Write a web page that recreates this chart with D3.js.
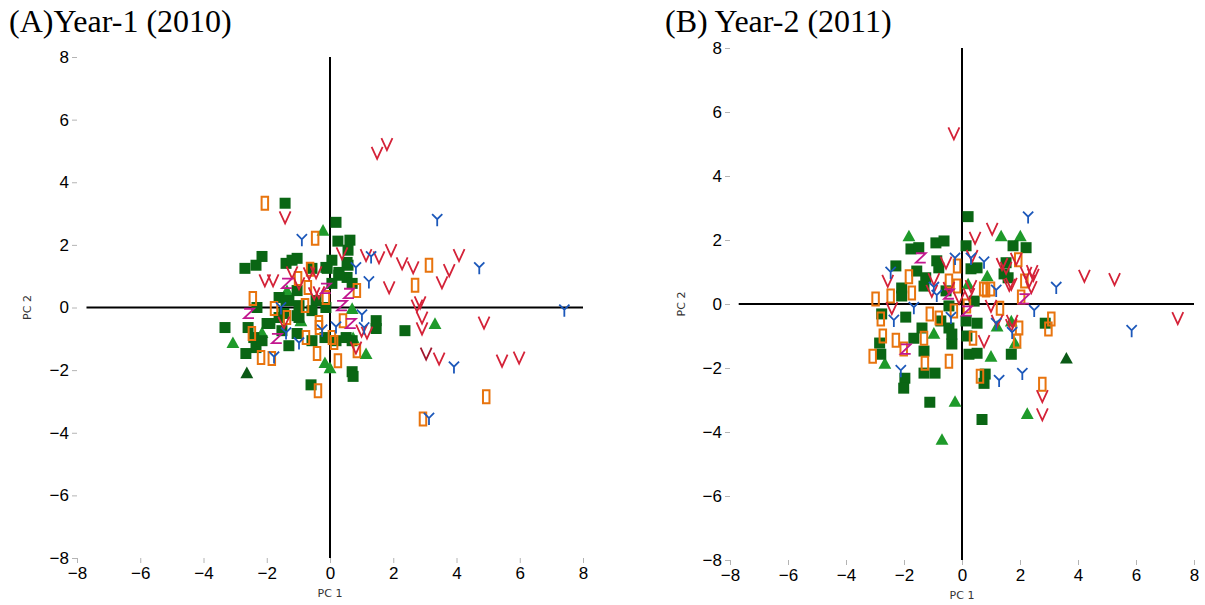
<!DOCTYPE html>
<html>
<head>
<meta charset="utf-8">
<script src="https://cdn.jsdelivr.net/npm/d3@7"></script>
<style>
  html, body { margin: 0; padding: 0; background: #fff; }
  svg { display: block; }
  .tick text { font-family: "Liberation Sans", Arial, sans-serif; font-size: 17px; fill: #000; }
  .tick line { stroke: #b4b4b4; }
  .axis-title { font-family: "DejaVu Sans", sans-serif; font-size: 11px; fill: #333; }
  .panel-title { font-family: "Liberation Serif", "Times New Roman", serif; font-size: 32px; fill: #000; }
</style>
</head>
<body>
<svg id="chart" width="1205" height="605"></svg>
<script>
// Shared tick values for both PCA score plots
const tickValues = [-8, -6, -4, -2, 0, 2, 4, 6, 8];
const panelTitles = ["(A)Year-1 (2010)", "(B) Year-2 (2011)"];
const axisNames = ["PC 1", "PC 2"];

// ---- Year-1 (2010) scores, [PC1, PC2] ----
const aSquares = [
  [-1.42,3.33],[0.19,2.72],[0.25,2.12],[0.63,2.15],[0.57,1.83],[0.06,1.51],[-2.15,1.63],[-2.34,1.35],
  [-2.69,1.25],[-1.39,1.41],[-1.04,1.57],[-1.20,1.51],[-0.57,1.25],[-0.09,1.25],[0.28,1.12],[0.54,0.96],
  [0.70,0.77],[0.06,0.77],[-2.31,0.00],[-1.61,0.32],[-1.04,0.54],[-1.30,0.22],[-0.98,0.06],[-0.44,0.22],
  [-0.13,0.00],[-0.57,-0.10],[-0.98,-0.32],[-1.61,-0.32],[-1.99,-0.51],[-2.59,-0.64],[-3.32,-0.64],
  [-1.52,-0.74],[-1.04,-0.83],[-0.57,-1.06],[-0.16,-0.96],[0.19,-1.06],[0.51,-0.96],[0.70,-1.06],
  [1.46,-0.42],[1.46,-0.67],[-2.34,-1.28],[-2.66,-1.47],[-1.30,-1.22],[0.70,-2.05],[0.73,-2.20],
  [-2.41,-0.96],[2.37,-0.74],[0.28,1.03],[0.57,1.35],[-0.60,-2.47],[-1.39,0.22],[-1.04,-0.26],
  [-1.46,-0.19],[-2.15,-1.06],[-0.13,1.28],[0.54,1.44],[-1.90,-0.51]
];
const aTriangles = [
  [-0.22,2.47],[-3.07,-1.12],[-2.15,-0.80],[-0.16,-1.76],[0.00,-1.92],[1.14,-1.47],[0.70,-0.03],
  [-0.92,-0.42],[-1.36,0.54],[3.32,-0.51],[0.73,-0.96]
];
const aTrianglesDark = [[-2.63,-2.08]];
const aRects = [
  [-2.06,3.33],[-0.47,2.21],[-0.63,1.22],[-1.01,0.93],[-2.44,0.29],[-1.77,-0.03],[-0.79,0.06],
  [-0.70,0.64],[-1.36,-0.32],[-2.47,-0.83],[-0.35,-0.48],[-0.41,-1.47],[0.13,-1.12],[0.25,-1.70],
  [0.85,-1.38],[-2.18,-1.60],[-1.84,-1.63],[-0.76,-0.96],[0.85,0.54],[3.13,1.35],[2.69,0.71],
  [4.94,-2.85],[2.94,-3.56],[0.41,-0.42],[-0.38,-2.66],[-0.35,-0.64],[-0.13,0.32],[0.06,-0.96]
];
const aV = [
  [1.80,5.22],[1.49,4.94],[-1.42,2.88],[-2.06,0.87],[-1.80,0.87],[0.38,1.73],[1.14,1.67],[1.55,1.60],
  [1.93,1.83],[2.28,1.41],[2.63,1.28],[1.87,0.64],[4.08,1.67],[3.77,1.19],[3.54,0.80],[2.75,0.06],
  [2.91,-0.32],[2.91,-0.67],[3.45,-1.63],[4.87,-0.48],[5.44,-1.70],[5.98,-1.60],[1.17,-0.80],
  [0.82,-1.28],[-1.20,1.12],[-0.66,1.09],[-0.44,1.12],[-0.50,0.45],[-1.46,-0.48],[-0.98,0.77],
  [1.00,-0.74],[-0.35,0.48],[2.85,0.16]
];
const aVDark = [[3.04,-1.47]];
const aY = [
  [3.39,2.79],[4.72,1.25],[7.41,-0.10],[3.92,-1.92],[3.13,-3.56],[0.82,1.25],[1.30,1.60],[1.23,0.80],
  [1.01,-0.26],[1.08,-0.67],[-0.89,2.15],[-1.55,-0.03],[-0.98,-1.15],[-1.39,-0.83],[-1.77,-1.60],
  [0.19,-0.64],[-0.25,-0.74]
];
const aZ = [
  [-1.36,0.77],[-2.56,-0.19],[-1.68,-0.99],[-0.13,0.61],[0.60,0.45],[0.66,-0.51],[0.38,0.06]
];

// ---- Year-2 (2011) scores, [PC1, PC2] ----
const bSquares = [
  [0.21,2.73],[-0.90,1.91],[-0.62,1.97],[-1.76,1.72],[-1.49,1.76],[0.14,1.82],[-2.28,1.19],[-0.87,1.35],
  [-0.80,1.13],[-1.56,1.03],[-1.25,0.82],[-2.08,0.50],[-2.08,0.25],[-1.31,0.56],[-0.55,0.41],[0.31,1.10],
  [0.52,1.13],[1.52,1.29],[1.45,0.94],[1.59,0.82],[1.76,1.82],[2.21,1.76],[2.87,-0.60],[-2.77,-0.31],
  [-1.94,-0.41],[-1.38,-0.75],[-0.73,-0.53],[-0.45,-0.75],[0.14,-0.53],[0.52,-0.60],[-2.84,-1.22],
  [-1.66,-1.07],[-1.31,-1.47],[-0.35,-1.25],[0.17,-1.00],[0.24,-1.57],[0.52,-1.54],[1.70,-1.57],
  [-2.80,-1.57],[-1.31,-2.16],[-0.93,-2.16],[-1.97,-2.32],[-2.01,-2.63],[-1.11,-3.07],[0.80,-2.19],
  [0.76,-2.48],[0.69,-3.61],[-0.45,-0.06],[-0.35,-0.94],[0.42,0.09]
];
const bTriangles = [
  [-1.83,2.13],[1.35,2.13],[2.01,2.13],[0.87,0.88],[0.21,0.63],[-0.97,-0.91],[-2.66,-1.85],[1.00,-1.63],
  [1.83,-1.22],[1.70,-0.53],[1.21,-0.69],[-0.24,-3.04],[2.25,-3.42],[-0.69,-4.23]
];
const bTrianglesDark = [[3.60,-1.69]];
const bRects = [
  [-2.98,0.16],[-2.46,0.25],[-1.83,0.85],[-1.73,0.34],[-2.80,-0.47],[-2.73,-1.00],[-2.28,-1.13],
  [-3.08,-1.63],[-2.01,-1.41],[-1.31,-1.07],[-1.28,-1.85],[-0.45,-1.79],[-1.11,-0.31],[-0.80,-0.44],
  [-0.28,-0.22],[0.17,-0.06],[0.38,-1.07],[0.62,-2.26],[0.83,0.44],[1.31,-0.13],[1.94,1.38],[2.15,0.72],
  [2.04,0.22],[1.97,-0.75],[1.90,-1.16],[-0.45,0.72],[-0.17,1.19],[3.08,-0.47],[2.98,-0.78],[2.77,-2.51],
  [0.73,0.47],[1.00,0.47],[-0.17,0.56]
];
const bV = [
  [-0.28,5.33],[0.45,2.07],[1.04,2.35],[-2.56,0.72],[-2.42,-0.13],[-0.97,0.78],[-0.55,1.29],[-0.45,0.50],
  [-1.04,0.41],[1.38,1.25],[1.70,0.63],[1.87,1.41],[2.42,1.03],[2.32,0.72],[1.00,-0.06],[0.76,-1.16],
  [1.73,-0.53],[1.21,-0.53],[2.77,-2.88],[2.77,-3.45],[4.22,0.88],[5.26,0.78],[7.44,-0.44],[2.46,0.91],
  [2.39,0.53],[1.52,1.13],[1.63,0.60],[1.70,-0.66],[2.21,0.97],[-0.10,0.19],[0.24,0.31],[0.31,0.56],
  [0.35,1.50]
];
const bY = [
  [2.28,2.70],[-2.46,0.97],[-1.66,-0.13],[-2.35,-0.53],[-2.11,-2.10],[-0.24,1.41],[0.31,1.41],[0.76,1.29],
  [-0.97,0.50],[-0.87,0.25],[1.18,0.41],[1.18,-0.63],[2.49,-0.22],[1.73,-0.91],[2.08,-2.19],[1.28,-2.41],
  [-0.38,-0.44],[3.25,0.50],[5.85,-0.85]
];
const bZ = [[-1.42,1.44],[-1.94,-1.41],[0.17,-0.22],[2.15,0.16],[-0.45,0.31]];

// Letter-shaped marker symbols for d3.symbol()
const symbolV = { draw(ctx, size) { const s = Math.sqrt(size) / 2;
  ctx.moveTo(-0.92 * s, -s); ctx.lineTo(0, s); ctx.lineTo(0.92 * s, -s); } };
const symbolY = { draw(ctx, size) { const s = Math.sqrt(size) / 2;
  ctx.moveTo(-0.85 * s, -s); ctx.lineTo(0, -0.15 * s); ctx.lineTo(0.85 * s, -s);
  ctx.moveTo(0, -0.15 * s); ctx.lineTo(0, s); } };
const symbolZ = { draw(ctx, size) { const s = Math.sqrt(size) / 2;
  ctx.moveTo(-0.9 * s, -0.85 * s); ctx.lineTo(0.9 * s, -0.85 * s); ctx.lineTo(-0.9 * s, 0.85 * s);
  ctx.lineTo(0.9 * s, 0.85 * s); } };
const symbolTall = { draw(ctx, size) { const s = Math.sqrt(size) / 2;
  ctx.rect(-0.5 * s, -s, s, 2 * s); ctx.closePath(); } };
const symbolTri = { draw(ctx, size) { const s = Math.sqrt(size) / 2;
  ctx.moveTo(0, -s); ctx.lineTo(1.05 * s, s * 0.9); ctx.lineTo(-1.05 * s, s * 0.9); ctx.closePath(); } };
const symbolSq = { draw(ctx, size) { const s = Math.sqrt(size) / 2;
  ctx.rect(-s, -s, 2 * s, 2 * s); } };

// Marker layers, drawn bottom to top
const layers = [
  { key: "triangles", type: symbolTri, size: 150, fill: "#1e9a2a", stroke: "none", sw: 0 },
  { key: "trianglesDark", type: symbolTri, size: 150, fill: "#0b5a16", stroke: "none", sw: 0 },
  { key: "squares", type: symbolSq, size: 121, fill: "#0a6614", stroke: "none", sw: 0 },
  { key: "rects", type: symbolTall, size: 169, fill: "none", stroke: "#e8740e", sw: 2 },
  { key: "v", type: symbolV, size: 144, fill: "none", stroke: "#d42238", sw: 1.8 },
  { key: "vDark", type: symbolV, size: 144, fill: "none", stroke: "#a0162e", sw: 1.8 },
  { key: "y", type: symbolY, size: 144, fill: "none", stroke: "#1c58ba", sw: 1.8 },
  { key: "z", type: symbolZ, size: 121, fill: "none", stroke: "#c2178f", sw: 1.8 }
];

const panels = [
  { title: panelTitles[0], titleX: 9, titleY: 32,
    xRange: [77, 583], yRange: [558, 57], yLabelX: 31,
    data: { triangles: aTriangles, trianglesDark: aTrianglesDark, squares: aSquares, rects: aRects,
            v: aV, vDark: aVDark, y: aY, z: aZ } },
  { title: panelTitles[1], titleX: 665, titleY: 32,
    xRange: [730, 1194], yRange: [560, 48], yLabelX: 685,
    data: { triangles: bTriangles, trianglesDark: bTrianglesDark, squares: bSquares, rects: bRects,
            v: bV, vDark: [], y: bY, z: bZ } }
];

const svg = d3.select("#chart");

panels.forEach(p => {
  const x = d3.scaleLinear().domain([-8, 8]).range(p.xRange);
  const y = d3.scaleLinear().domain([-8, 8]).range(p.yRange);
  const g = svg.append("g");

  g.append("text").attr("class", "panel-title")
    .attr("x", p.titleX).attr("y", p.titleY).text(p.title);

  // Frame axes with light ticks along bottom and left
  const gx = g.append("g").attr("transform", `translate(0,${y(-8)})`)
    .call(d3.axisBottom(x).tickValues(tickValues).tickSize(5).tickPadding(4).tickFormat(d3.format("d")));
  gx.select(".domain").remove();
  const gy = g.append("g").attr("transform", `translate(${x(-8)},0)`)
    .call(d3.axisLeft(y).tickValues(tickValues).tickSize(5).tickPadding(3).tickFormat(d3.format("d")));
  gy.select(".domain").remove();
  gy.selectAll(".tick text").attr("dy", "0.32em");

  // Zero lines through the origin
  g.append("line").attr("x1", x(-7.7)).attr("x2", x(8)).attr("y1", y(0)).attr("y2", y(0))
    .attr("stroke", "#000").attr("stroke-width", 2);
  g.append("line").attr("x1", x(0)).attr("x2", x(0)).attr("y1", y(8)).attr("y2", y(-8))
    .attr("stroke", "#000").attr("stroke-width", 2);

  g.append("text").attr("class", "axis-title").attr("text-anchor", "middle")
    .attr("x", x(0)).attr("y", y(-8) + 39).text(axisNames[0]);
  g.append("text").attr("class", "axis-title").attr("text-anchor", "middle")
    .attr("transform", `translate(${p.yLabelX},${y(0)}) rotate(-90)`).text(axisNames[1]);

  layers.forEach(L => {
    const pts = p.data[L.key] || [];
    g.append("g").selectAll("path").data(pts).join("path")
      .attr("transform", d => `translate(${x(d[0])},${y(d[1])})`)
      .attr("d", d3.symbol().type(L.type).size(L.size))
      .attr("fill", L.fill)
      .attr("stroke", L.stroke)
      .attr("stroke-width", L.sw)
      .attr("stroke-linejoin", "miter");
  });
});
</script>
</body>
</html>
